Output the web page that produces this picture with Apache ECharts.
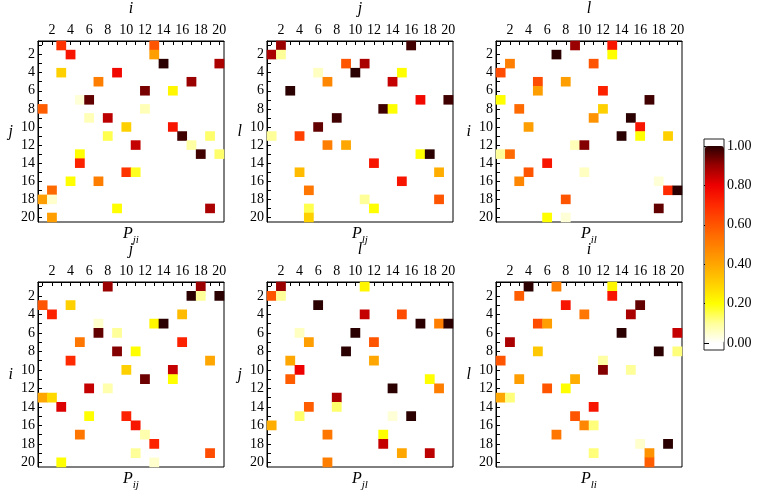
<!DOCTYPE html>
<html>
<head>
<meta charset="utf-8">
<script src="https://cdn.jsdelivr.net/npm/echarts@6/dist/echarts.min.js"></script>
<style>html,body{margin:0;padding:0;background:#fff}#c{width:767px;height:490px}</style>
</head>
<body>
<div id="c"></div>
<script>
// tick categories 1..20
const cats = ['1','2','3','4','5','6','7','8','9','10','11','12','13','14','15','16','17','18','19','20'];
const colorbarTicks = [0, 0.2, 0.4, 0.6, 0.8, 1.0];

// each entry: [column (1-based), row (1-based), value]
const P_ji = [[3,1,0.68],[13,1,0.6],[4,2,0.75],[13,2,0.42],[14,3,1.0],[20,3,0.88],[3,4,0.3],[9,4,0.78],[7,5,0.5],[17,5,0.9],[12,6,0.93],[15,6,0.22],[5,7,0.04],[6,7,0.95],[1,8,0.58],[12,8,0.07],[6,9,0.07],[8,9,0.86],[10,10,0.3],[15,10,0.75],[8,11,0.15],[16,11,0.98],[19,11,0.13],[11,12,0.85],[17,12,0.09],[5,13,0.2],[18,13,0.98],[20,13,0.13],[5,14,0.72],[10,15,0.68],[11,15,0.18],[4,16,0.2],[7,16,0.5],[2,17,0.55],[1,18,0.42],[2,18,0.05],[9,19,0.2],[19,19,0.88],[2,20,0.42]];
const P_lj = [[2,1,0.9],[16,1,0.98],[1,2,0.88],[2,2,0.1],[9,3,0.6],[11,3,0.88],[6,4,0.06],[10,4,1.0],[15,4,0.2],[7,5,0.48],[14,5,0.85],[3,6,1.0],[17,7,0.78],[20,7,0.98],[13,8,0.98],[14,8,0.2],[8,9,0.98],[6,10,0.95],[1,11,0.1],[4,11,0.65],[7,12,0.5],[9,12,0.4],[17,13,0.2],[18,13,1.0],[12,14,0.75],[4,15,0.35],[19,15,0.38],[15,16,0.75],[5,17,0.52],[11,18,0.1],[19,18,0.6],[5,19,0.15],[12,19,0.2],[5,20,0.3]];
const P_il = [[9,1,0.9],[13,1,0.75],[7,2,1.0],[13,2,0.2],[2,3,0.5],[11,3,0.6],[1,4,0.62],[5,5,0.62],[8,5,0.42],[5,6,0.42],[12,6,0.72],[1,7,0.2],[17,7,0.98],[3,8,0.55],[12,8,0.3],[11,9,0.45],[15,9,1.0],[4,10,0.42],[16,10,0.75],[14,11,1.0],[16,11,0.2],[19,11,0.3],[9,12,0.07],[10,12,0.92],[1,13,0.1],[2,13,0.55],[6,14,0.75],[4,15,0.6],[10,15,0.06],[3,16,0.48],[18,16,0.04],[19,17,0.7],[20,17,1.0],[8,18,0.6],[18,19,0.95],[6,20,0.2],[8,20,0.04]];
const P_ij = [[8,1,0.9],[18,1,0.9],[17,2,1.0],[18,2,0.1],[20,2,1.0],[1,3,0.6],[4,3,0.3],[2,4,0.72],[16,4,0.35],[7,5,0.05],[13,5,0.22],[14,5,1.0],[7,6,0.95],[9,6,0.1],[5,7,0.52],[16,7,0.72],[9,8,0.92],[11,8,0.2],[4,9,0.7],[19,9,0.4],[10,10,0.3],[15,10,0.85],[12,11,0.94],[15,11,0.2],[6,12,0.85],[8,12,0.08],[1,13,0.4],[2,13,0.28],[3,14,0.82],[6,15,0.2],[10,15,0.72],[11,16,0.75],[5,17,0.52],[12,17,0.08],[13,18,0.72],[11,19,0.1],[19,19,0.62],[3,20,0.2],[13,20,0.05]];
const P_jl = [[2,1,0.9],[11,1,0.22],[1,2,0.6],[2,2,0.1],[6,3,1.0],[11,4,0.85],[15,4,0.62],[17,5,1.0],[19,5,0.5],[20,5,1.0],[4,6,0.06],[10,6,1.0],[5,7,0.42],[12,7,0.6],[9,8,1.0],[3,9,0.4],[12,9,0.4],[4,10,0.8],[3,11,0.58],[18,11,0.2],[14,12,1.0],[19,12,0.5],[8,13,0.88],[5,14,0.58],[8,14,0.13],[4,15,0.13],[14,15,0.04],[16,15,1.0],[1,16,0.38],[7,17,0.52],[13,17,0.2],[13,18,0.85],[15,19,0.4],[18,19,0.86],[7,20,0.5]];
const P_li = [[4,1,1.0],[7,1,0.5],[13,1,0.22],[3,2,0.58],[13,2,0.75],[8,3,0.75],[16,3,0.95],[10,4,0.52],[15,4,0.88],[5,5,0.62],[6,5,0.42],[14,6,1.0],[20,6,0.85],[2,7,0.88],[5,8,0.32],[18,8,1.0],[20,8,0.12],[1,9,0.6],[12,9,0.09],[12,10,0.92],[15,10,0.1],[3,11,0.42],[9,11,0.38],[6,12,0.6],[8,12,0.2],[1,13,0.4],[2,13,0.12],[11,14,0.75],[9,15,0.6],[10,16,0.48],[11,16,0.12],[7,17,0.52],[16,18,0.05],[19,18,1.0],[11,19,0.12],[17,19,0.45],[17,20,0.58]];

const xNames = ['i','j','l','j','l','i'];
const yNames = ['j','l','i','i','j','l'];
const subs = ['ji','lj','il','ij','jl','li'];
const panelData = [P_ji, P_lj, P_il, P_ij, P_jl, P_li];

const FONT = "'Liberation Serif', 'DejaVu Serif', serif";
const lefts = [38, 267, 496], tops = [37, 282], W = 186, H = 185;

const grid = [], xAxis = [], yAxis = [], series = [], graphic = [];
panelData.forEach((d, k) => {
  const L = lefts[k % 3], T = tops[Math.floor(k / 3)];
  grid.push({left: L, top: T, width: W, height: H, show: true, borderColor: '#000', borderWidth: 1, backgroundColor: 'transparent'});
  const common = {
    type: 'category', gridIndex: k, data: cats,
    nameLocation: 'middle',
    nameTextStyle: {fontFamily: FONT, fontStyle: 'italic', fontSize: 16, color: '#000'},
    axisLine: {show: true, lineStyle: {color: '#000', width: 1}},
    axisTick: {show: true, inside: true, alignWithLabel: true, interval: 0, length: 4, lineStyle: {color: '#000'}},
    axisLabel: {interval: (i) => i % 2 === 1, fontFamily: FONT, fontSize: 14, color: '#000'},
    splitLine: {show: false}, splitArea: {show: false}
  };
  xAxis.push(Object.assign({}, common, {position: 'top', name: xNames[k], nameGap: 24,
    axisLabel: Object.assign({}, common.axisLabel, {margin: 4})}));
  yAxis.push(Object.assign({}, common, {position: 'left', inverse: true, name: yNames[k], nameGap: 25, nameRotate: 0,
    axisLabel: Object.assign({}, common.axisLabel, {margin: 3})}));
  series.push({
    type: 'heatmap', xAxisIndex: k, yAxisIndex: k,
    data: d.map(([c, r, v]) => [c - 1, r - 1, v]),
    itemStyle: {borderWidth: 0},
    emphasis: {disabled: true}
  });
  graphic.push({
    type: 'text', left: L + W / 2 - 8, top: T + H + 4,
    style: {
      text: '{p|P}{s|' + subs[k] + '}',
      rich: {
        p: {fontFamily: FONT, fontStyle: 'italic', fontSize: 16, color: '#000', lineHeight: 18, verticalAlign: 'top'},
        s: {fontFamily: FONT, fontStyle: 'italic', fontSize: 11, color: '#000', lineHeight: 11, padding: [9, 0, 0, 0], verticalAlign: 'top'}
      }
    }
  });
});

// colorbar axis (0..1)
grid.push({left: 704, top: 146, width: 20, height: 197, show: false});
xAxis.push({type: 'value', gridIndex: 6, show: false});
yAxis.push({type: 'value', gridIndex: 6, min: colorbarTicks[0], max: colorbarTicks[colorbarTicks.length - 1], interval: 0.2,
  position: 'right', axisLine: {show: false},
  axisTick: {show: true, length: 5, lineStyle: {color: '#000'}},
  axisLabel: {formatter: v => v.toFixed(2), margin: 3, fontFamily: FONT, fontSize: 14, color: '#000'},
  splitLine: {show: false}});
// colorbar frame
grid.push({left: 704, top: 139, width: 20, height: 211, show: true, borderColor: '#222', borderWidth: 1, backgroundColor: 'transparent'});
xAxis.push({type: 'value', gridIndex: 7, show: false});
yAxis.push({type: 'value', gridIndex: 7, show: false});

const option = {
  backgroundColor: '#fff',
  animation: false,
  grid, xAxis, yAxis, series, graphic,
  visualMap: {
    type: 'continuous', min: 0, max: 1, calculable: false, realtime: false,
    seriesIndex: [0, 1, 2, 3, 4, 5],
    orient: 'vertical', left: 705, top: 146, itemWidth: 19, itemHeight: 197, padding: 0,
    text: null, showLabel: false, hoverLink: false,
    inRange: {color: ['#ffffff', '#ffff9a', '#ffff00', '#ffd000', '#ffa600', '#ff7e00', '#ff5500', '#ff2a00', '#ee0000', '#9a0000', '#2a0000']}
  }
};
const chart = echarts.init(document.getElementById('c'), null, {renderer: 'canvas'});
chart.setOption(option);
</script>
</body>
</html>
